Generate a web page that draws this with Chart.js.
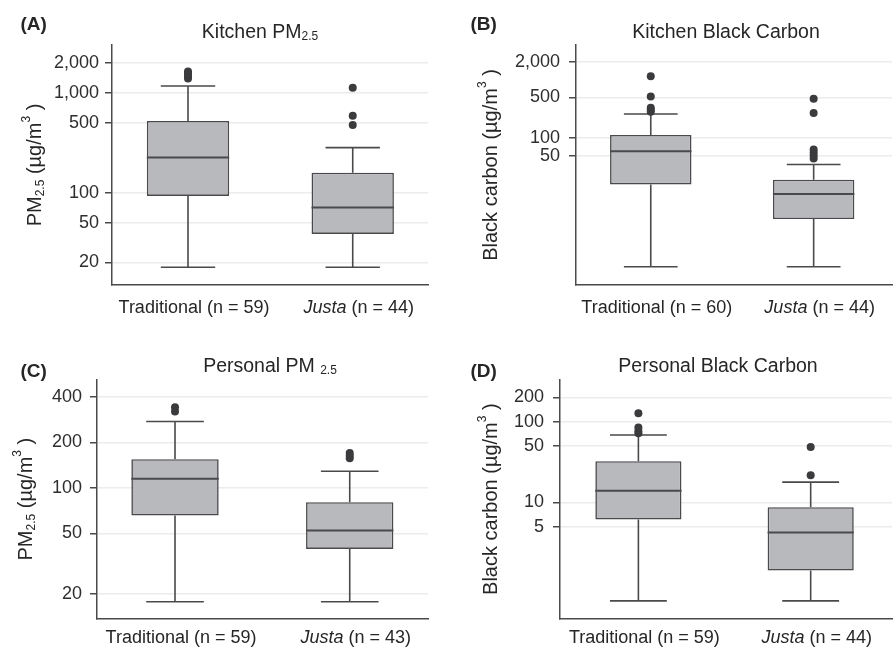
<!DOCTYPE html>
<html><head><meta charset="utf-8">
<script src="https://cdn.jsdelivr.net/npm/chart.js@4.4.1/dist/chart.umd.min.js"></script>
<style>
html,body{margin:0;padding:0;background:#fff;}
#wrap{position:relative;width:896px;height:647px;overflow:hidden;}
canvas{position:absolute;display:block;}
</style></head><body>
<div id="wrap">
<canvas id="cA" width="448" height="320" style="left:0;top:0"></canvas>
<canvas id="cB" width="448" height="320" style="left:448px;top:0"></canvas>
<canvas id="cC" width="448" height="327" style="left:0;top:320px"></canvas>
<canvas id="cD" width="448" height="327" style="left:448px;top:320px"></canvas>
</div>
<script>
// ---------- data ----------
const groups = ['Traditional', 'Justa'];

// (A) Kitchen PM2.5
const nA = [59, 44];
const lowerA = [17.9, 17.9];
const q1A = [92.7, 38.6];
const medianA = [224, 70.8];
const q3A = [521, 158];
const upperA = [1167, 282];
const outliersTradA = [1387, 1470, 1556, 1630];
const outliersJustaA = [475, 589, 1122];
const ticksA = [20, 50, 100, 500, 1000, 2000];
const rangeA = [11.9, 3000];

// (B) Kitchen Black Carbon
const nB = [60, 44];
const lowerB = [0.617, 0.617];
const q1B = [16.0, 4.07];
const medianB = [59.3, 10.9];
const q3B = [113, 19.2];
const upperB = [258, 35.1];
const outliersTradB = [282, 305, 331, 516, 1153];
const outliersJustaB = [44.5, 50, 56.2, 63.4, 268, 471];
const ticksB = [50, 100, 500, 2000];
const rangeB = [0.308, 3950];

// (C) Personal PM2.5
const nC = [59, 43];
const lowerC = [17.7, 17.7];
const q1C = [65.6, 39.5];
const medianC = [115, 52.2];
const q3C = [154.5, 80.3];
const upperC = [274, 128.7];
const outliersTradC = [319, 340];
const outliersJustaC = [157, 163, 170];
const ticksC = [20, 50, 100, 200, 400];
const rangeC = [13.6, 521];

// (D) Personal Black Carbon
const nD = [59, 44];
const lowerD = [0.604, 0.604];
const q1D = [6.12, 1.43];
const medianD = [13.9, 4.23];
const q3D = [32.4, 8.73];
const upperD = [68.4, 17.8];
const outliersTradD = [71.8, 76.7, 84.3, 127];
const outliersJustaD = [21.7, 48.6];
const ticksD = [5, 10, 50, 100, 200];
const rangeD = [0.36, 334];

const letters = ['(A)', '(B)', '(C)', '(D)'];
const titles = [['Kitchen PM', '2.5'], ['Kitchen Black Carbon', ''], ['Personal PM ', '2.5'], ['Personal Black Carbon', '']];
const yTitlePM = ['PM', '2.5', ' (\u00b5g/m', '3', ' )'];
const yTitleBC = ['Black carbon', '', ' (\u00b5g/m', '3', ' )'];

// ---------- style ----------
const FONT = "'Liberation Sans', Arial, Helvetica, sans-serif";
const TXT = '#262626';
const LINE = '#4a4a4d';
const FILL = '#b8b9bc';
const DOT = '#3b3b3e';

function fontStr(r){ return (r.style||'normal') + ' ' + (r.weight||'normal') + ' ' + r.size + 'px ' + FONT; }
function drawRuns(ctx, runs, x, y, align){
  const w = runs.map(r => { ctx.font = fontStr(r); return ctx.measureText(r.t).width; });
  const total = w.reduce((a,b)=>a+b, 0);
  let cx = align === 'center' ? x - total/2 : x;
  ctx.textAlign = 'left'; ctx.textBaseline = 'alphabetic'; ctx.fillStyle = TXT;
  runs.forEach((r,i) => { if (!r.t) return; ctx.font = fontStr(r); ctx.fillText(r.t, cx, y + (r.dy||0)); cx += w[i]; });
}

function makePanel(id, d, lay, idx){
  const el = document.getElementById(id);
  const boxData = d.q1.map((q, i) => ({x: i + 1, y: [q, d.q3[i]]}));
  const outData = [];
  d.out.forEach((arr, i) => arr.forEach(v => outData.push({x: i + 1, y: v})));

  const extras = {
    id: 'boxExtras' + id,
    beforeDatasetsDraw(chart){
      const ctx = chart.ctx, xs = chart.scales.x, ys = chart.scales.y;
      ctx.save();
      ctx.strokeStyle = LINE; ctx.lineWidth = 1.6; ctx.lineCap = 'butt';
      d.q1.forEach((q, i) => {
        const xc = xs.getPixelForValue(i + 1);
        const xl = xs.getPixelForValue(i + 1 - 0.165), xr = xs.getPixelForValue(i + 1 + 0.165);
        const yU = ys.getPixelForValue(d.upper[i]), yQ3 = ys.getPixelForValue(d.q3[i]);
        const yL = ys.getPixelForValue(d.lower[i]), yQ1 = ys.getPixelForValue(d.q1[i]);
        ctx.beginPath();
        ctx.moveTo(xc, yQ3); ctx.lineTo(xc, yU);
        ctx.moveTo(xl, yU); ctx.lineTo(xr, yU);
        ctx.moveTo(xc, yQ1); ctx.lineTo(xc, yL);
        ctx.moveTo(xl, yL); ctx.lineTo(xr, yL);
        ctx.stroke();
      });
      ctx.restore();
    },
    afterDatasetsDraw(chart){
      const ctx = chart.ctx, ys = chart.scales.y;
      const meta = chart.getDatasetMeta(0);
      ctx.save();
      ctx.strokeStyle = LINE; ctx.lineWidth = 2;
      meta.data.forEach((bar, i) => {
        const y = ys.getPixelForValue(d.med[i]);
        ctx.beginPath();
        ctx.moveTo(bar.x - bar.width/2, y); ctx.lineTo(bar.x + bar.width/2, y);
        ctx.stroke();
      });
      ctx.restore();
    },
    afterDraw(chart){
      const ctx = chart.ctx, ca = chart.chartArea, xs = chart.scales.x;
      ctx.save();
      // panel letter
      drawRuns(ctx, [{t: letters[idx], size: 19, weight: 'bold'}], lay.letter[0], lay.letter[1], 'left');
      // title
      drawRuns(ctx, [{t: d.title[0], size: 19.5}, {t: d.title[1], size: 12, dy: 2}], lay.title[0], lay.title[1], 'center');
      // y title (rotated)
      const yt = d.ytitle;
      ctx.save();
      ctx.translate(lay.ylab, (ca.top + ca.bottom)/2);
      ctx.rotate(-Math.PI/2);
      drawRuns(ctx, [{t: yt[0], size: 20}, {t: yt[1], size: 12, dy: 3}, {t: yt[2], size: 20}, {t: yt[3], size: 12, dy: -11}, {t: yt[4], size: 20}], 0, 0, 'center');
      ctx.restore();
      // x category labels
      groups.forEach((g, i) => {
        const xc = xs.getPixelForValue(i + 1) + 6;
        const tail = ' (n = ' + d.n[i] + ')';
        const runs = i === 1 ? [{t: g, size: 18, style: 'italic'}, {t: tail, size: 18}] : [{t: g + tail, size: 18}];
        drawRuns(ctx, runs, xc, lay.xlab, 'center');
      });
      ctx.restore();
    }
  };

  return new Chart(el, {
    type: 'bar',
    data: {
      datasets: [
        {type: 'bar', data: boxData, backgroundColor: FILL, borderColor: LINE, borderWidth: 1.6, borderSkipped: false,
         barPercentage: 0.5, categoryPercentage: 1, order: 2},
        {type: 'scatter', data: outData, pointRadius: 4, pointHoverRadius: 4, backgroundColor: DOT, borderColor: DOT, borderWidth: 0, order: 1}
      ]
    },
    options: {
      responsive: false, animation: false, devicePixelRatio: 1,
      layout: {padding: {top: lay.top, right: lay.right, left: 0, bottom: 0}},
      plugins: {legend: {display: false}, tooltip: {enabled: false}, title: {display: false}},
      scales: {
        x: {
          type: 'linear', min: lay.xr[0], max: lay.xr[1], offset: false,
          afterBuildTicks(s){ s.ticks = groups.map((g, i) => ({value: i + 1})); },
          ticks: {display: false},
          grid: {display: true, drawOnChartArea: false, drawTicks: false},
          border: {display: true, color: LINE, width: 1.5},
          afterFit(s){ s.height = lay.xh; }
        },
        y: {
          type: 'logarithmic', min: d.range[0], max: d.range[1],
          afterBuildTicks(s){ s.ticks = d.ticks.map(v => ({value: v})); },
          ticks: {
            autoSkip: false, color: '#2e2e2e', padding: lay.tickPad,
            font: {family: FONT, size: 18},
            callback: (v) => Number(v).toLocaleString('en-US')
          },
          grid: {color: '#ececec', lineWidth: 1.5, tickColor: LINE, tickLength: 7, tickWidth: 1.5},
          border: {display: true, color: LINE, width: 1.5},
          afterFit(s){ s.width = lay.yw; }
        }
      }
    },
    plugins: [extras]
  });
}

const dataA = {n: nA, lower: lowerA, q1: q1A, med: medianA, q3: q3A, upper: upperA, out: [outliersTradA, outliersJustaA], ticks: ticksA, range: rangeA, title: titles[0], ytitle: yTitlePM};
const dataB = {n: nB, lower: lowerB, q1: q1B, med: medianB, q3: q3B, upper: upperB, out: [outliersTradB, outliersJustaB], ticks: ticksB, range: rangeB, title: titles[1], ytitle: yTitleBC};
const dataC = {n: nC, lower: lowerC, q1: q1C, med: medianC, q3: q3C, upper: upperC, out: [outliersTradC, outliersJustaC], ticks: ticksC, range: rangeC, title: titles[2], ytitle: yTitlePM};
const dataD = {n: nD, lower: lowerD, q1: q1D, med: medianD, q3: q3D, upper: upperD, out: [outliersTradD, outliersJustaD], ticks: ticksD, range: rangeD, title: titles[3], ytitle: yTitleBC};

makePanel('cA', dataA, {top: 45, right: 20, yw: 112, xh: 35, xr: [0.5386, 2.457], tickPad: 6, letter: [20.5, 29.5], title: [260, 38.3], ylab: 40.7, xlab: 313.3}, 0);
makePanel('cB', dataB, {top: 45, right: 0, yw: 128, xh: 35, xr: [0.541, 2.481], tickPad: 9, letter: [22.5, 29.5], title: [278, 38.3], ylab: 49.3, xlab: 313.3}, 1);
makePanel('cC', dataC, {top: 59.3, right: 20, yw: 97, xh: 28, xr: [0.5535, 2.448], tickPad: 8, letter: [20.5, 56.5], title: [270, 51.7], ylab: 31.7, xlab: 322.7}, 2);
makePanel('cD', dataD, {top: 59.3, right: 0, yw: 112, xh: 28, xr: [0.545, 2.472], tickPad: 9, letter: [22.5, 56.5], title: [270, 51.7], ylab: 49, xlab: 322.7}, 3);
</script>
</body></html>
